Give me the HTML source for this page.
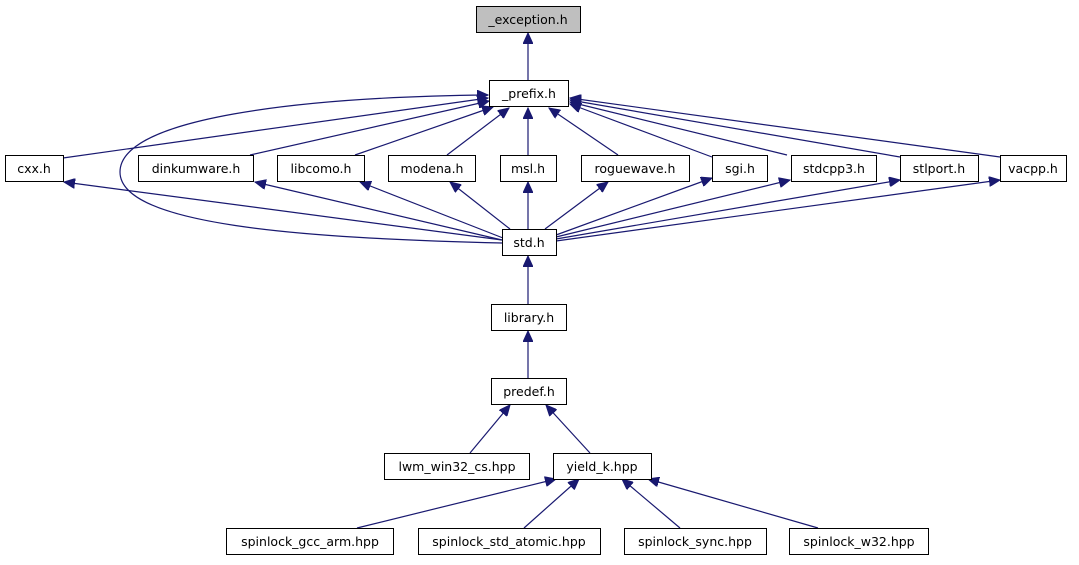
<!DOCTYPE html>
<html><head><meta charset="utf-8"><style>
html,body{margin:0;padding:0;background:#fff;}
svg text{font-family:"DejaVu Sans","Liberation Sans",sans-serif;font-size:12.5px;fill:#000;text-anchor:middle;}
</style></head><body>
<svg width="1079" height="560" viewBox="0 0 1079 560" xmlns="http://www.w3.org/2000/svg">
<defs>
<marker id="a" markerUnits="userSpaceOnUse" markerWidth="12" markerHeight="10" refX="11" refY="5" orient="auto">
<path d="M0,0 L11,5 L0,10 Z" fill="#191970" stroke="#191970"/>
</marker>
</defs>
<g stroke="#191970" stroke-width="1.2" fill="none" marker-end="url(#a)">
<line x1="528" y1="80" x2="528" y2="33"/>
<line x1="63" y1="158" x2="488" y2="98"/>
<line x1="250" y1="155" x2="489" y2="101"/>
<line x1="355" y1="155" x2="493" y2="107"/>
<line x1="447" y1="155" x2="509" y2="108"/>
<line x1="528" y1="155" x2="528" y2="108"/>
<line x1="618" y1="155" x2="549" y2="108"/>
<line x1="712" y1="157" x2="570" y2="104"/>
<line x1="787" y1="155" x2="570" y2="102"/>
<line x1="900" y1="157" x2="570" y2="100"/>
<line x1="1000" y1="157" x2="570" y2="98"/>
<path d="M502,243 C300,238 120,225 120,172 C120,118 300,97 488,95"/>
<line x1="502" y1="240" x2="64" y2="182"/>
<line x1="502" y1="240" x2="255" y2="182"/>
<line x1="503" y1="238" x2="360" y2="182"/>
<line x1="510" y1="229" x2="450" y2="182"/>
<line x1="528" y1="229" x2="528" y2="182"/>
<line x1="545" y1="229" x2="608" y2="182"/>
<line x1="556" y1="235" x2="712" y2="178"/>
<line x1="556" y1="237" x2="790" y2="180"/>
<line x1="556" y1="239" x2="900" y2="180"/>
<line x1="556" y1="241" x2="1000" y2="180"/>
<line x1="528" y1="304" x2="528" y2="256"/>
<line x1="528" y1="378" x2="528" y2="331"/>
<line x1="470" y1="453" x2="510" y2="405"/>
<line x1="590" y1="453" x2="546" y2="405"/>
<line x1="357" y1="528" x2="556" y2="479"/>
<line x1="524" y1="528" x2="579" y2="479"/>
<line x1="680" y1="528" x2="622" y2="479"/>
<line x1="818" y1="528" x2="648" y2="479"/>
</g>
<g stroke="#000" stroke-width="1">
<rect x="476.5" y="6.5" width="104" height="26" fill="#bfbfbf"/>
<rect x="489.5" y="80.5" width="79" height="26" fill="#fff"/>
<rect x="5.5" y="155.5" width="58" height="26" fill="#fff"/>
<rect x="138.5" y="155.5" width="115" height="26" fill="#fff"/>
<rect x="277.5" y="155.5" width="87" height="26" fill="#fff"/>
<rect x="388.5" y="155.5" width="87" height="26" fill="#fff"/>
<rect x="500.5" y="155.5" width="56" height="26" fill="#fff"/>
<rect x="581.5" y="155.5" width="108" height="26" fill="#fff"/>
<rect x="712.5" y="155.5" width="55" height="26" fill="#fff"/>
<rect x="791.5" y="155.5" width="85" height="26" fill="#fff"/>
<rect x="900.5" y="155.5" width="78" height="26" fill="#fff"/>
<rect x="1000.5" y="155.5" width="66" height="26" fill="#fff"/>
<rect x="502.5" y="229.5" width="54" height="26" fill="#fff"/>
<rect x="491.5" y="304.5" width="75" height="26" fill="#fff"/>
<rect x="491.5" y="378.5" width="75" height="26" fill="#fff"/>
<rect x="384.5" y="453.5" width="145" height="26" fill="#fff"/>
<rect x="553.5" y="453.5" width="98" height="26" fill="#fff"/>
<rect x="226.5" y="528.5" width="167" height="26" fill="#fff"/>
<rect x="418.5" y="528.5" width="182" height="26" fill="#fff"/>
<rect x="624.5" y="528.5" width="142" height="26" fill="#fff"/>
<rect x="789.5" y="528.5" width="139" height="26" fill="#fff"/>
</g>
<text x="528" y="24">_exception.h</text>
<text x="529" y="98">_prefix.h</text>
<text x="34" y="173">cxx.h</text>
<text x="196" y="173">dinkumware.h</text>
<text x="321" y="173">libcomo.h</text>
<text x="432" y="173">modena.h</text>
<text x="528" y="173">msl.h</text>
<text x="635" y="173">roguewave.h</text>
<text x="740" y="173">sgi.h</text>
<text x="834" y="173">stdcpp3.h</text>
<text x="939" y="173">stlport.h</text>
<text x="1033" y="173">vacpp.h</text>
<text x="529" y="247">std.h</text>
<text x="529" y="322">library.h</text>
<text x="529" y="396">predef.h</text>
<text x="457" y="471">lwm_win32_cs.hpp</text>
<text x="602" y="471">yield_k.hpp</text>
<text x="310" y="546">spinlock_gcc_arm.hpp</text>
<text x="509" y="546">spinlock_std_atomic.hpp</text>
<text x="695" y="546">spinlock_sync.hpp</text>
<text x="859" y="546">spinlock_w32.hpp</text>
</svg>
</body></html>
